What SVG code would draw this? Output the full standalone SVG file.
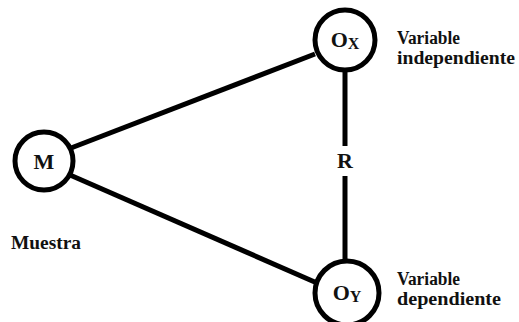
<svg xmlns="http://www.w3.org/2000/svg" width="519" height="322" viewBox="0 0 519 322">
<style>
.n{fill:#fff;stroke:#000;stroke-width:5}
.c{stroke:#000;stroke-width:5;fill:none}
.t{font-weight:bold;fill:#111}
.lbl{font-size:18px}
.big{font-size:22px}
.sub{font-size:16px}
</style>
<rect width="519" height="322" fill="#fff"/>
<g id="connectors">
<line class="c" x1="71" y1="148" x2="315" y2="54"/>
<line class="c" x1="70" y1="175" x2="317" y2="283"/>
<line class="c" x1="345" y1="70" x2="345" y2="146"/>
<line class="c" x1="345" y1="176" x2="345" y2="262"/>
</g>
<g font-family="Liberation Serif, Times New Roman, DejaVu Serif, serif">
<g id="M">
<circle class="n" cx="44" cy="161" r="29"/>
<text class="t big" x="44" y="169" text-anchor="middle">M</text>
</g>
<g id="Ox">
<circle class="n" cx="345" cy="40" r="30"/>
<text class="t big" x="345" y="47" text-anchor="middle">O<tspan class="sub" dy="2">X</tspan></text>
</g>
<g id="Oy">
<circle class="n" cx="347" cy="293" r="32"/>
<text class="t big" x="347" y="300" text-anchor="middle">O<tspan class="sub" dy="2">Y</tspan></text>
</g>
<g id="R">
<text class="t big" x="345" y="168" text-anchor="middle">R</text>
</g>
<g id="labels">
<text class="t lbl" x="11" y="249" textLength="70" lengthAdjust="spacingAndGlyphs">Muestra</text>
<text class="t lbl" x="397" y="44" textLength="63" lengthAdjust="spacingAndGlyphs">Variable</text>
<text class="t lbl" x="397" y="64" textLength="118" lengthAdjust="spacingAndGlyphs">independiente</text>
<text class="t lbl" x="397" y="285" textLength="63" lengthAdjust="spacingAndGlyphs">Variable</text>
<text class="t lbl" x="397" y="305" textLength="104" lengthAdjust="spacingAndGlyphs">dependiente</text>
</g>
</g>
</svg>
